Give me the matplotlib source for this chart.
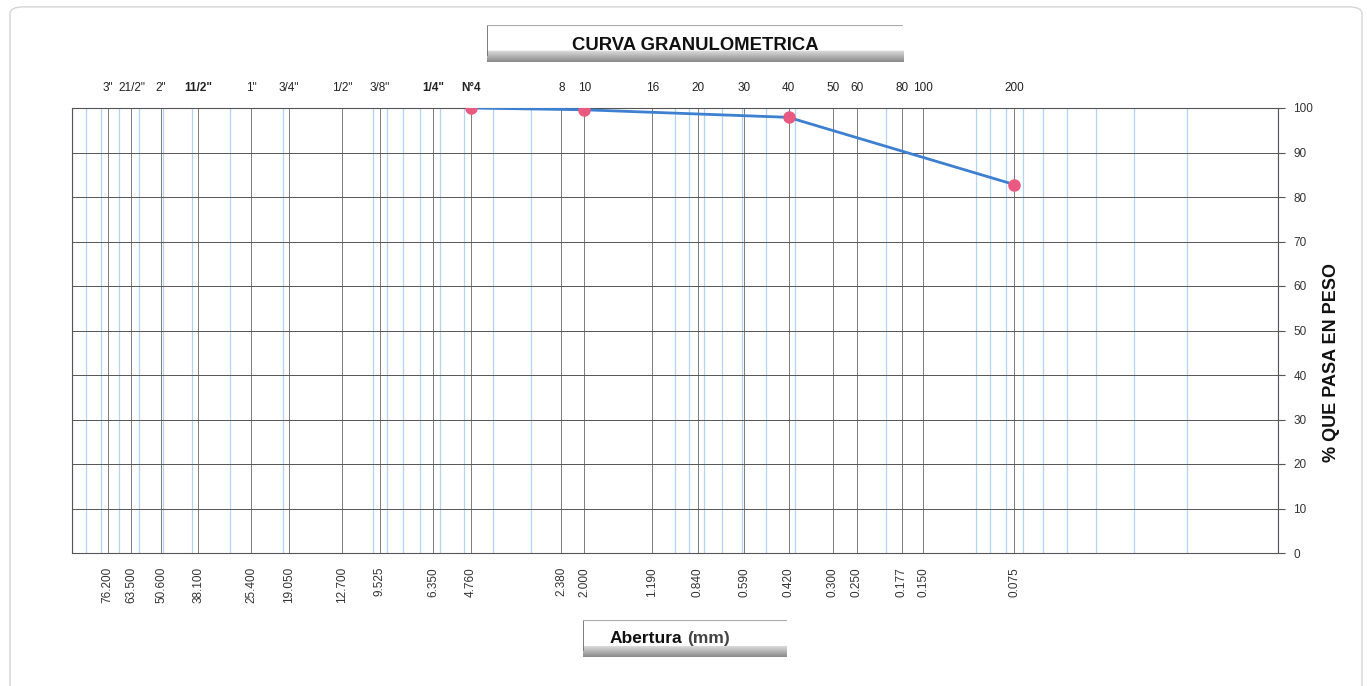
import numpy as np
import matplotlib
matplotlib.use('Agg')
import matplotlib.pyplot as plt
from matplotlib.ticker import FixedLocator, NullFormatter, LogLocator
from matplotlib.patches import FancyBboxPatch

plt.rcParams['font.family'] = ['Liberation Sans', 'DejaVu Sans']

# tamices
sieve_mm = [76.2, 63.5, 50.6, 38.1, 25.4, 19.05, 12.7, 9.525, 6.35, 4.76,
            2.38, 2.0, 1.19, 0.84, 0.59, 0.42, 0.30, 0.25, 0.177, 0.15, 0.075]
sieve_names = ['3"', '21/2"', '2"', '11/2"', '1"', '3/4"', '1/2"', '3/8"', '1/4"', 'N°4',
               '8', '10', '16', '20', '30', '40', '50', '60', '80', '100', '200']
mm_labels = ['76.200', '63.500', '50.600', '38.100', '25.400', '19.050', '12.700',
             '9.525', '6.350', '4.760', '2.380', '2.000', '1.190', '0.840', '0.590',
             '0.420', '0.300', '0.250', '0.177', '0.150', '0.075']

# resultados del ensayo
test_mm = [4.76, 2.0, 0.42, 0.075]
test_pass = [100.0, 99.6, 97.9, 82.8]

fig = plt.figure(figsize=(13.67, 6.86), dpi=100)
W, H = 1367, 686
ax = fig.add_axes([72 / W, 1 - 553 / H, (1278 - 72) / W, (553 - 108) / H])

ax.set_xscale('log')
ax.set_xlim(100, 0.01)
ax.set_ylim(0, 100)

# lineas azules claras (escala log)
ax.xaxis.set_minor_locator(LogLocator(base=10, subs=np.arange(1, 10)))
ax.xaxis.set_minor_formatter(NullFormatter())
ax.grid(True, which='minor', axis='x', color='#b3d4f0', lw=0.9)
# lineas de tamices
ax.xaxis.set_major_locator(FixedLocator(sieve_mm))
ax.set_xticklabels(mm_labels, rotation=90, fontsize=8.5, color='#333333')
ax.grid(True, which='major', axis='x', color='#666666', lw=0.6)
ax.tick_params(axis='x', which='both', length=0, pad=10)

ax.set_yticks(np.arange(0, 101, 10))
ax.yaxis.tick_right()
ax.tick_params(axis='y', length=5, width=0.8, color='#555555', labelsize=8.5,
               labelcolor='#333333', pad=6)
ax.grid(True, which='major', axis='y', color='#555555', lw=0.7)
ax.set_axisbelow(True)
for s in ax.spines.values():
    s.set_color('#555555')
    s.set_linewidth(0.8)

top = ax.secondary_xaxis('top')
top.xaxis.set_major_locator(FixedLocator(sieve_mm))
top.xaxis.set_minor_locator(FixedLocator([]))
top.set_xticklabels(sieve_names, fontsize=8.5, color='#222222')
top.tick_params(length=0, pad=10)
top.spines['top'].set_visible(False)
for lbl in top.get_xticklabels():
    if lbl.get_text() in ('N°4', '1/4"', '11/2"'):
        lbl.set_fontweight('bold')

ax.plot(test_mm, test_pass, color='#3d7fd0', lw=2, zorder=3)
ax.plot(test_mm, test_pass, 'o', color='#ea5a80', ms=8, zorder=4)

fig.text(1332 / W, 1 - 362 / H, '% QUE PASA EN PESO', rotation=90, ha='center',
         va='center', fontsize=13, fontweight='bold', color='#111111')


def shaded_box(x0, y0, x1, y1):
    bx = fig.add_axes([x0 / W, 1 - y1 / H, (x1 - x0) / W, (y1 - y0) / H])
    g = np.ones((40, 1))
    g[28:, 0] = np.linspace(0.85, 0.55, 12)
    bx.imshow(g, cmap='gray', vmin=0, vmax=1, aspect='auto', extent=[0, 1, 0, 1])
    bx.set_xlim(0, 1)
    bx.set_ylim(0, 1)
    bx.set_xticks([])
    bx.set_yticks([])
    for s in bx.spines.values():
        s.set_visible(False)
    bx.plot([0, 0], [0.2, 1], color='#666666', lw=1.2)
    bx.plot([0, 1], [1, 1], color='#aaaaaa', lw=0.8)
    return bx


tb = shaded_box(487, 25, 903, 62)
tb.text(0.5, 0.45, 'CURVA GRANULOMETRICA', ha='center', va='center',
        fontsize=13.3, fontweight='bold', color='#111111')

xb = shaded_box(583, 620, 787, 657)
xb.text(0.485, 0.5, 'Abertura', ha='right', va='center', fontsize=12.5,
        fontweight='bold', color='#111111')
xb.text(0.51, 0.5, '(mm)', ha='left', va='center', fontsize=12.5,
        fontweight='bold', color='#444444')

# borde de la hoja
fig.patches.append(FancyBboxPatch((10 / W, -0.05), (1352 / W), 1.04, transform=fig.transFigure,
                                  boxstyle='round,pad=0,rounding_size=0.01',
                                  fill=False, ec='#d5d5d5', lw=1))

fig.savefig('out.png', dpi=100)
